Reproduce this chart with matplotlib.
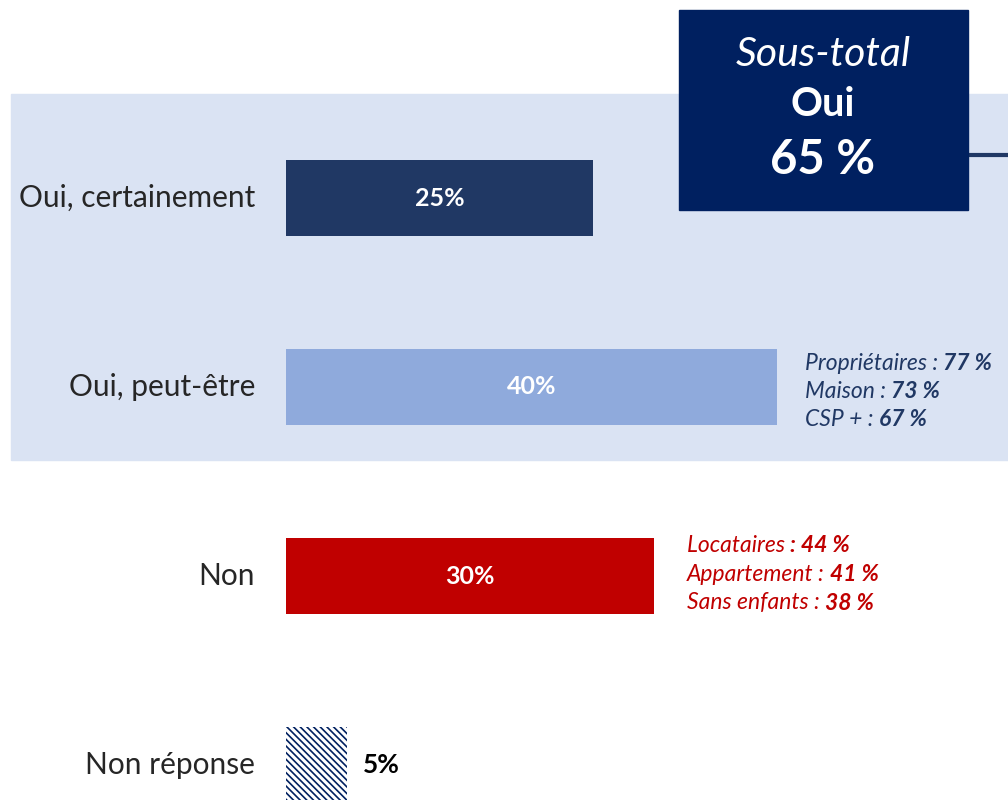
import matplotlib
matplotlib.use("Agg")
import matplotlib.pyplot as plt
from matplotlib.patches import Rectangle

plt.rcParams["font.family"] = ["Lato", "DejaVu Sans"]
plt.rcParams["hatch.linewidth"] = 1.2

# ── Données ─────────────────────────────────────────────────────────────────
categories = ["Oui, certainement", "Oui, peut-être", "Non", "Non réponse"]
valeurs = [25, 40, 30, 5]
sous_total_oui = 65

detail_oui = [("Propriétaires : ", "77 %"), ("Maison : ", "73 %"), ("CSP + : ", "67 %")]
detail_non = [("Locataires ", ": 44 %"), ("Appartement : ", "41 %"), ("Sans enfants : ", "38 %")]

# ── Styles ──────────────────────────────────────────────────────────────────
couleurs = ["#203864", "#8FAADC", "#C00000", "white"]
BLEU_TXT = "#203864"
ROUGE = "#C00000"
NAVY = "#002060"

W, H = 1008, 800
fig = plt.figure(figsize=(W / 100, H / 100), dpi=100)
ax = fig.add_axes([0, 0, 1, 1])

# échelle : 12.28 px par %, barres à partir de x=286 px, pas de 189 px
px_per = 12.28
ax.set_xlim(-286 / px_per, (W - 286) / px_per)
ax.set_ylim((H - 198) / 189, -198 / 189)
ax.axis("off")


def fx(px):
    return px / W


def fy(py):
    return 1 - py / H


# fond bleu clair derrière les « Oui »
ax.add_patch(Rectangle((fx(11), fy(460)), fx(W - 11), (460 - 94) / H,
                       transform=ax.transAxes, color="#DAE3F3", zorder=0))

for i, (cat, v) in enumerate(zip(categories, valeurs)):
    if i == 3:
        ax.barh(i, v, height=0.40, left=0, color="white", edgecolor=NAVY,
                hatch="\\\\\\\\\\", linewidth=0, zorder=2)
        ax.text(v + 1.3, i, f"{v}%", ha="left", va="center", fontsize=19,
                fontweight="bold", color="black")
    else:
        ax.barh(i, v, height=0.40, left=0, color=couleurs[i], zorder=2)
        ax.text(v / 2, i, f"{v}%", ha="center", va="center", fontsize=18,
                fontweight="bold", color="white", zorder=3)
    ax.text(-31 / px_per, i, cat, ha="right", va="center", fontsize=21.5,
            color="#262626")


def bloc(x_px, y_px, lignes, couleur):
    for k, (a, b) in enumerate(lignes):
        t = ax.text(fx(x_px), fy(y_px + k * 28.5), a, ha="left", va="center",
                    fontsize=16.5, style="italic", color=couleur,
                    transform=ax.transAxes, zorder=5)
        ax.annotate(b, xy=(1, 0.5), xycoords=t, va="center", ha="left",
                    fontsize=16.5, style="italic", fontweight="bold",
                    color=couleur, zorder=5)


bloc(805, 363, detail_oui, BLEU_TXT)
bloc(687, 546, detail_non, ROUGE)

# encadré sous-total
ax.add_patch(Rectangle((fx(679), fy(210)), fx(968 - 679), 200 / H,
                       transform=ax.transAxes, color=NAVY, zorder=3))
ax.plot([fx(968), fx(1008)], [fy(155), fy(155)], transform=ax.transAxes,
        color=BLEU_TXT, lw=3, zorder=2)
ax.text(fx(823), fy(54), "Sous-total", ha="center", va="center", fontsize=29.5,
        style="italic", color="white", zorder=4, transform=ax.transAxes)
ax.text(fx(823), fy(104), "Oui", ha="center", va="center", fontsize=28.5,
        fontweight="bold", color="white", zorder=4, transform=ax.transAxes)
ax.text(fx(823), fy(160), f"{sous_total_oui} %", ha="center", va="center",
        fontsize=34, fontweight="bold", color="white", zorder=4,
        transform=ax.transAxes)

fig.savefig("out.png", dpi=100)
